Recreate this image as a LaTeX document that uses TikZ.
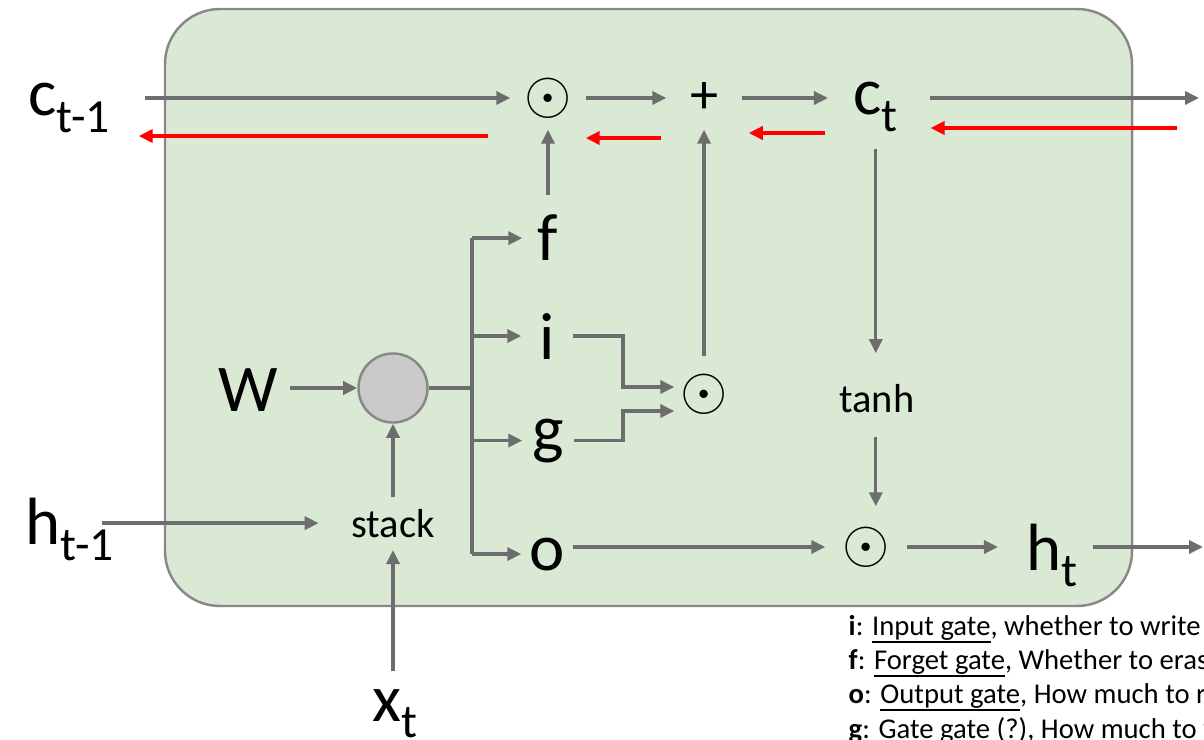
\documentclass[tikz,border=0pt]{standalone}
\usepackage{fontspec}
\setmainfont{Carlito}
\usetikzlibrary{arrows.meta,positioning}
\definecolor{cellgreen}{HTML}{D9E9D3}
\definecolor{cellgray}{HTML}{888888}
\definecolor{flowgray}{HTML}{6D6D6D}
\definecolor{gradred}{HTML}{FF0000}
\definecolor{mulgray}{HTML}{C9C9C9}
\newcommand{\vsub}[2]{#1\raisebox{-4.6pt}{\fontsize{13.5}{14}\selectfont #2}}
\newcommand{\gateul}[1]{\setbox0\hbox{#1}\rlap{\rule[-2pt]{\wd0}{0.6pt}}\box0}

\begin{document}
\begin{tikzpicture}[x=0.01cm,y=-0.01cm,
  arr/.style={draw=flowgray,line width=0.95pt,-{Triangle[length=1.4mm,width=1.3mm]}},
  back/.style={draw=gradred,line width=1pt,-{Triangle[length=1.4mm,width=1.3mm]}},
  flow/.style={draw=flowgray,line width=0.95pt},
  big/.style={font=\fontsize{19}{22}\selectfont,inner sep=0pt},
  gate/.style={big,minimum width=0.5cm},
  small/.style={font=\fontsize{11.5}{14}\selectfont,inner sep=0pt},
  op/.style={font=\fontsize{16}{16}\selectfont,inner sep=0pt}]
  \path[use as bounding box] (0,0) rectangle (1204,740);
  \clip (0,0) rectangle (1204,740);
  % cell
  \draw[fill=cellgreen,draw=cellgray,line width=0.7pt,rounded corners=0.55cm] (165,9) rectangle (1132,606);
  % inputs and outputs
  \node[big,anchor=base west] (cprev) at (28,116) {\vsub{c}{t-1}};
  \node[big,anchor=base west] (hprev) at (25,544) {\vsub{h}{t-1}};
  \node[big,anchor=base west] (xt) at (372,721) {\vsub{x}{t}};
  \node[big,anchor=base west] (W) at (218,411) {W};
  \node[big,anchor=base west] (ct) at (853,115) {\vsub{c}{t}};
  \node[big,anchor=base west] (ht) at (1026,570) {\vsub{h}{t}};
  \coordinate (cout) at (1199,98);
  \coordinate (cin) at (1177,128);
  \coordinate (hout) at (1203,547);
  % operations
  \node[circle,fill=mulgray,draw=cellgray,line width=0.7pt,minimum size=0.69cm,inner sep=0pt] (mul) at (393,388) {};
  \node[small,anchor=base] (stack) at (393,537) {stack};
  \node[small,anchor=base] (tanh) at (877,412) {tanh};
  \node[op,minimum width=0.74cm,minimum height=0.62cm] (fmul) at (548,98) {$\odot$};
  \node[op,minimum width=0.74cm,minimum height=0.62cm] (add) at (704,98) {+};
  \node[op,minimum width=0.58cm,minimum height=0.74cm] (igmul) at (704,394) {$\odot$};
  \node[op,minimum width=0.8cm,minimum height=0.8cm] (omul) at (866,547) {$\odot$};
  % gates
  \node[gate,anchor=base] (f) at (548,261) {f};
  \node[gate,anchor=base] (i) at (547,359) {i};
  \node[gate,anchor=base] (g) at (548,451) {g};
  \node[gate,anchor=base] (o) at (547,570) {o};
  \coordinate (br) at (472,388);
  \coordinate (elb) at (623,394);
  % forward flow
  \draw[arr,shorten <=0.34cm] (cprev.east |- fmul) -- (fmul);
  \draw[arr] (fmul) -- (add);
  \draw[arr,shorten >=0.25cm] (add) -- (ct.west |- add);
  \draw[arr,shorten <=0.31cm] (ct.east |- add) -- (cout);
  \draw[arr,shorten <=0.11cm] (W.east |- mul) -- (mul);
  \draw[arr,shorten <=-0.13cm,shorten >=0.32cm] (hprev.east |- stack) -- (stack);
  \draw[arr,shorten <=0.17cm,shorten >=0.12cm] (xt.north -| stack) -- (stack);
  \draw[arr,shorten <=0.11cm] (stack) -- (mul);
  \draw[flow] (mul) -- (br);
  \draw[flow] (br |- f) -- (br |- o);
  \foreach \gt in {f,i,g,o}{\draw[arr] (br |- \gt) -- (\gt);}
  \draw[arr,shorten <=0.19cm] (f) -- (fmul);
  \draw[arr] (i.east) -| ([yshift=0.07cm]elb) -- ([yshift=0.07cm]igmul.west);
  \draw[arr] (g.east) -| ([yshift=-0.17cm]elb) -- ([yshift=-0.17cm]igmul.west);
  \draw[arr] (igmul) -- (add);
  \draw[arr,shorten <=0.17cm,shorten >=0.3cm] (ct.south) -- (ct.south |- tanh.north);
  \draw[arr,shorten <=0.24cm] (tanh.south -| ct.south) -- (ct.south |- omul.north);
  \draw[arr] (o.east |- omul) -- (omul);
  \draw[arr,shorten >=0.28cm] (omul) -- (ht.west |- omul);
  \draw[arr,shorten <=0.15cm] (ht.east |- omul) -- (hout);
  % backward flow
  \draw[back,shorten >=0.32cm] (cin) -- (ct.east |- cin);
  \draw[back,shorten <=0.28cm,shorten >=0.07cm] ([yshift=-0.35cm]ct.west |- add) -- ([yshift=-0.35cm]add.east);
  \draw[back,shorten <=0.05cm] ([yshift=-0.4cm]add.west) -- ([yshift=-0.4cm]fmul.east);
  \draw[back,shorten <=0.22cm,shorten >=0.28cm] ([yshift=-0.38cm]fmul.west) -- ([yshift=-0.38cm]cprev.east |- fmul);
  % legend
  \node[anchor=base west,align=left,inner sep=0pt,font=\fontsize{8.15}{9.68}\selectfont] (legend) at (848,738)
    {\textbf{i}: \gateul{Input gate}, whether to write to cell\\
     \textbf{f}: \gateul{Forget gate}, Whether to erase cell\\
     \textbf{o}: \gateul{Output gate}, How much to reveal cell\\
     \textbf{g}: Gate gate (?), How much to write to cell};
\end{tikzpicture}
\end{document}
